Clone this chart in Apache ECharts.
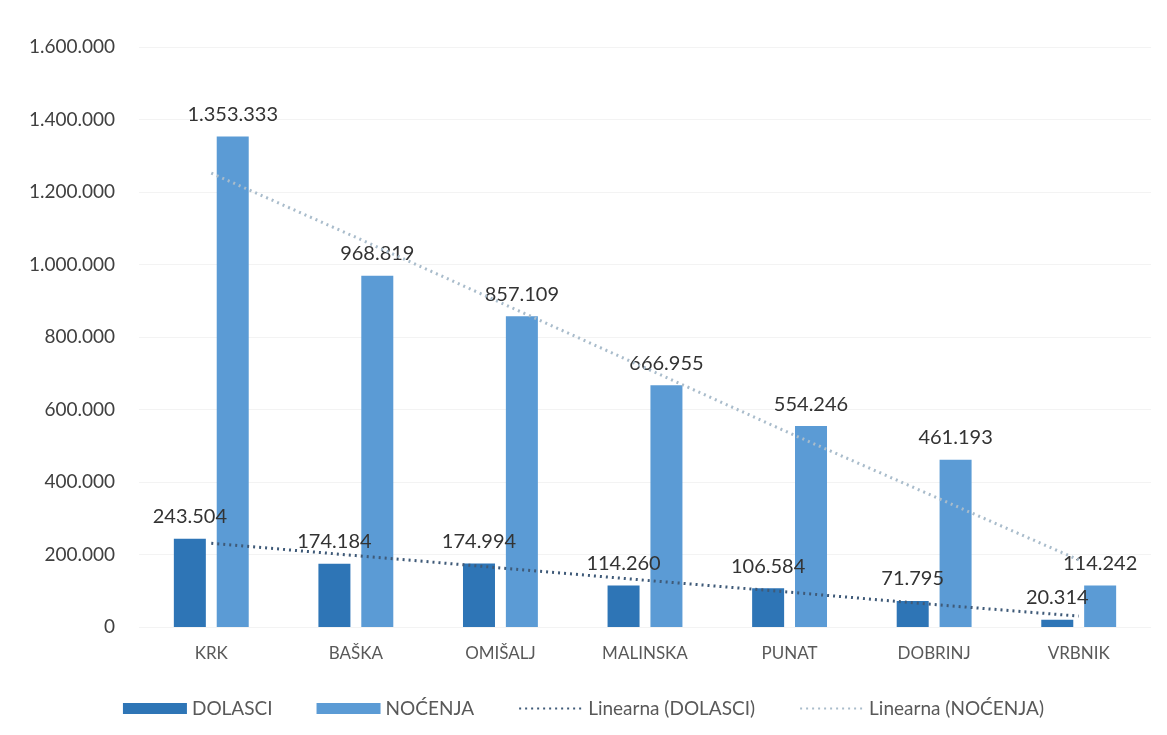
<!DOCTYPE html>
<html>
<head>
<meta charset="utf-8">
<script src="https://cdn.jsdelivr.net/npm/echarts@6/dist/echarts.min.js"></script>
<style>
    html, body { margin: 0; padding: 0; background: #fff; }
    #chart { width: 1167px; height: 735px; }
</style>
</head>
<body>
<div id="chart"></div>
<script>
/* ===== Data ===== */
const categories = ['KRK', 'BAŠKA', 'OMIŠALJ', 'MALINSKA', 'PUNAT', 'DOBRINJ', 'VRBNIK'];
const dolasci = [243504, 174184, 174994, 114260, 106584, 71795, 20314];
const nocenja = [1353333, 968819, 857109, 666955, 554246, 461193, 114242];
// trend lines at each category
const trendDolasci = [231000, 197000, 163000, 129000, 96000, 62000, 30000];
const trendNocenja = [1252000, 1075000, 895000, 715000, 535000, 360000, 185000];

// 1353333 -> "1.353.333"
const fmt = v => String(Math.round(v)).replace(/\B(?=(\d{3})+(?!\d))/g, '.');

const chart = echarts.init(document.getElementById('chart'));
const font = 'Lato, "Open Sans", sans-serif';

const option = {
    backgroundColor: '#fff',
    textStyle: { fontFamily: font },
    grid: {
        left: 139,
        right: 16,
        top: 47,
        bottom: 108
    },
    legend: {
        bottom: 12,
        left: 'center',
        itemGap: 44,
        itemWidth: 64,
        itemHeight: 11,
        textStyle: { fontSize: 19, color: '#595959', fontFamily: font },
        data: [
            { name: 'DOLASCI', icon: 'rect' },
            { name: 'NOĆENJA', icon: 'rect' },
            { name: 'Linearna (DOLASCI)', itemStyle: { opacity: 0 } },
            { name: 'Linearna (NOĆENJA)', itemStyle: { opacity: 0 } }
        ]
    },
    xAxis: {
        type: 'category',
        data: categories,
        axisLine: { show: false },
        axisTick: { show: false },
        axisLabel: { color: '#595959', fontSize: 17, margin: 18 }
    },
    yAxis: {
        type: 'value',
        min: 0,
        max: 1600000,
        interval: 200000,
        axisLine: { show: false },
        axisTick: { show: false },
        splitLine: { lineStyle: { color: '#f3f3f3' } },
        axisLabel: {
            color: '#404040',
            fontSize: 19,
            margin: 24,
            formatter: v => fmt(v)
        }
    },
    series: [{
        name: 'DOLASCI',
        type: 'bar',
        data: dolasci,
        barWidth: 32,
        barGap: '34%',
        itemStyle: { color: '#2e75b6' },
        label: {
            show: true,
            position: 'top',
            distance: 12,
            color: '#333',
            fontSize: 20,
            formatter: p => fmt(p.value)
        }
    }, {
        name: 'NOĆENJA',
        type: 'bar',
        data: nocenja,
        barWidth: 32,
        itemStyle: { color: '#5b9bd5' },
        label: {
            show: true,
            position: 'top',
            distance: 12,
            color: '#333',
            fontSize: 20,
            formatter: p => fmt(p.value)
        }
    }, {
        name: 'Linearna (DOLASCI)',
        type: 'line',
        data: trendDolasci,
        symbol: 'none',
        z: 5,
        lineStyle: { color: '#3f5a78', width: 3, type: [2, 4] },
        itemStyle: { color: '#3f5a78' }
    }, {
        name: 'Linearna (NOĆENJA)',
        type: 'line',
        data: trendNocenja,
        symbol: 'none',
        z: 5,
        lineStyle: { color: '#a9bccb', width: 3, type: [2, 4] },
        itemStyle: { color: '#a9bccb' }
    }]
};

chart.setOption(option);
window.addEventListener('resize', () => chart.resize());
</script>
</body>
</html>
